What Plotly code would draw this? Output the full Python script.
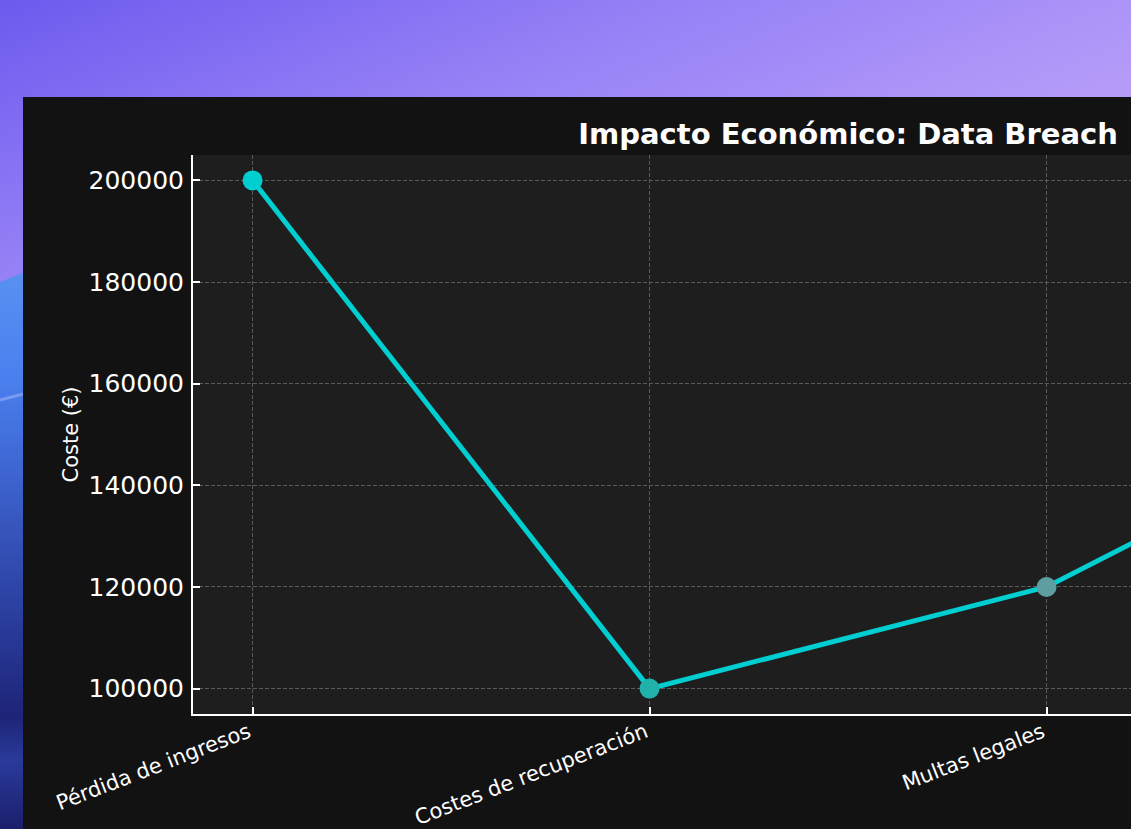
import base64
import plotly.graph_objects as go

# ---- data ----
categories = ["Pérdida de ingresos", "Costes de recuperación", "Multas legales", "Daño reputacional"]
costs = [200000, 100000, 120000, 160000]
marker_colors = ["#00CED1", "#20B2AA", "#5F9EA0", "#008B8B"]
y_ticks = [100000, 120000, 140000, 160000, 180000, 200000]

title_text = "Impacto Económico: Data Breach"
y_title = "Coste (€)"

W, H = 1131, 829
L, R, T, B = 193, 0, 155, 115
plot_w = W - L - R
plot_h = H - T - B

# background gradient (decorative wallpaper behind the chart panel)
svg = f"""<svg xmlns='http://www.w3.org/2000/svg' width='{W}' height='{H}' viewBox='0 0 {W} {H}' preserveAspectRatio='none'>
<defs>
<linearGradient id='p' x1='0' y1='0' x2='0.55' y2='1'>
<stop offset='0' stop-color='#6c5aee'/>
<stop offset='0.25' stop-color='#9680f6'/>
<stop offset='0.5' stop-color='#b59cf9'/>
<stop offset='1' stop-color='#b09cf8'/>
</linearGradient>
<linearGradient id='b' x1='0' y1='264' x2='0' y2='829' gradientUnits='userSpaceOnUse'>
<stop offset='0' stop-color='#5a92f2'/>
<stop offset='0.2' stop-color='#4a80ee'/>
<stop offset='0.35' stop-color='#3f68d4'/>
<stop offset='0.5' stop-color='#3450b6'/>
<stop offset='0.65' stop-color='#283a98'/>
<stop offset='0.8' stop-color='#1e2478'/>
<stop offset='0.88' stop-color='#2a3a9a'/>
<stop offset='1' stop-color='#1b1f6c'/>
</linearGradient>
</defs>
<rect width='{W}' height='{H}' fill='url(#p)'/>
<path d='M0,282 Q30,270 140,225 L140,{H} L0,{H} Z' fill='url(#b)'/>
<path d='M0,400 Q15,396 40,390' stroke='#7a9af2' stroke-width='3' fill='none'/>
</svg>"""
svg_uri = "data:image/svg+xml;base64," + base64.b64encode(svg.encode("utf-8")).decode("ascii")

fig = go.Figure()
fig.add_trace(go.Scatter(
    x=categories,
    y=costs,
    mode="lines+markers",
    line=dict(color="#00CED1", width=5),
    marker=dict(size=20, color=marker_colors, line=dict(width=0)),
    showlegend=False,
    hoverinfo="x+y",
))

n = len(categories)
full_lo, full_hi = -0.15, (n - 1) + 0.15
spacing_px = 397
x_hi = full_lo + plot_w / spacing_px

font_family = "DejaVu Sans, Verdana, sans-serif"

fig.update_layout(
    width=W, height=H,
    margin=dict(l=L, r=R, t=T, b=B, pad=0, autoexpand=False),
    paper_bgcolor="#8a78f2",
    plot_bgcolor="rgba(0,0,0,0)",
    font=dict(family=font_family, color="white"),
    title=dict(
        text=f"<b>{title_text}</b>",
        x=(L + spacing_px * (full_hi - full_lo) / 2) / W, xanchor="center", xref="container",
        y=1 - 134 / H, yanchor="middle", yref="container",
        font=dict(family=font_family, size=29, color="white"),
    ),
    xaxis=dict(
        type="category",
        range=[full_lo, x_hi],
        automargin=False,
        showline=True, linecolor="white", linewidth=2,
        ticks="inside", ticklen=7, tickwidth=1.5, tickcolor="white",
        tickangle=-21,
        ticklabelstandoff=-4, ticklabelshift=-4,
        tickfont=dict(family=font_family, size=21, color="white"),
        showgrid=True, gridcolor="#5a5a5a", gridwidth=1, griddash="4px,2px",
        zeroline=False, mirror=False,
    ),
    yaxis=dict(
        range=[95000, 205000],
        automargin=False,
        tickvals=y_ticks, tickformat="d",
        showline=True, linecolor="white", linewidth=2,
        ticks="inside", ticklen=7, tickwidth=1.5, tickcolor="white",
        tickfont=dict(family=font_family, size=25, color="white"),
        ticklabelstandoff=2,
        showgrid=True, gridcolor="#5a5a5a", gridwidth=1, griddash="4px,2px",
        zeroline=False, mirror=False,
        title=dict(text=y_title, font=dict(family=font_family, size=21, color="white"), standoff=4),
    ),
    images=[dict(
        source=svg_uri, xref="paper", yref="paper",
        x=-L / plot_w, y=(H - B) / plot_h,
        sizex=W / plot_w, sizey=H / plot_h,
        sizing="stretch", xanchor="left", yanchor="top", layer="below",
    )],
    shapes=[
        dict(type="rect", xref="paper", yref="paper",
             x0=(23 - L) / plot_w, x1=1.2, y0=-0.4, y1=(H - 97 - B) / plot_h,
             fillcolor="#121212", line=dict(width=0), layer="below"),
        dict(type="rect", xref="x domain", yref="y domain",
             x0=0, x1=1, y0=0, y1=1,
             fillcolor="#1e1e1e", line=dict(width=0), layer="below"),
    ],
)

fig.write_html(
    "out.html",
    config={"displayModeBar": False},
    post_script="document.body.style.margin='0';document.body.style.overflow='hidden';",
)
